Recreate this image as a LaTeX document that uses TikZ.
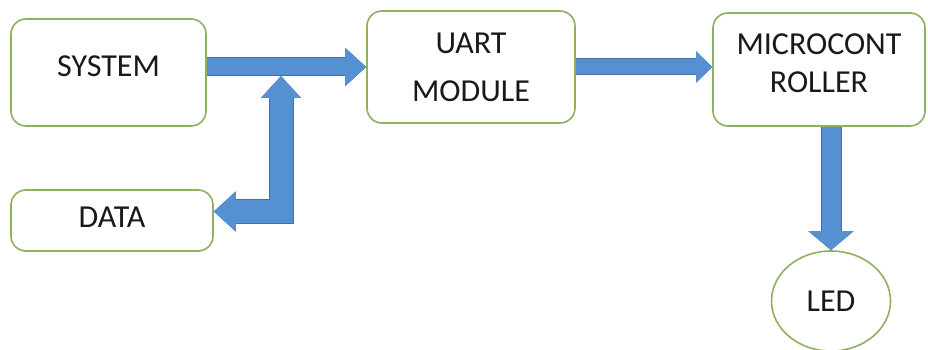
\documentclass[tikz,border=0pt]{standalone}
\usepackage{fontspec}
\setmainfont{Carlito}
\usetikzlibrary{arrows.meta,positioning,shapes.geometric}
\definecolor{boxgreen}{HTML}{8FB05F}
\definecolor{arrowblue}{HTML}{5590D2}
\definecolor{arrowedge}{HTML}{41719C}
\tikzset{
  block/.style={draw=boxgreen, line width=1.6pt, rounded corners=15pt, fill=white, align=center, inner sep=0pt, text=black!90, font=\fontsize{32}{38}\selectfont},
  fat/.style 2 args={line width=#1, draw=arrowblue, line join=miter, -{Triangle[#2, line width=0pt]},
    preaction={draw=arrowedge, line width=#1+2pt, -{Triangle[#2, line width=1.5pt]}}},
  fat both/.style 2 args={line width=#1, draw=arrowblue, line join=miter, {Triangle[#2, line width=0pt]}-{Triangle[#2, line width=0pt]},
    preaction={draw=arrowedge, line width=#1+2pt, {Triangle[#2, line width=1.5pt]}-{Triangle[#2, line width=1.5pt]}}}
}

\begin{document}
\begin{tikzpicture}[x=1pt, y=-1pt]
  \useasboundingbox (0,0) rectangle (928,350);
  \node[block, minimum width=195pt, minimum height=107pt, text height=22pt, text depth=13pt] (sys) at (108.5,72.5) {SYSTEM};
  \node[block, minimum width=202pt, minimum height=61pt, text height=22pt, text depth=8pt] (data) at (112,220.5) {DATA};
  \node[block, minimum width=208pt, minimum height=112pt] (uart) at (471,67) {UART\\[10pt]MODULE};
  \node[block, minimum width=212pt, minimum height=113pt, text height=60pt, text depth=14pt] (mcu) at (819,69.5) {MICROCONT\\ROLLER};
  \node[block, ellipse, sharp corners, minimum width=119pt, minimum height=100pt] (led) at (831,301) {LED};
  \coordinate (jn) at (281,76);
  % connections
  \draw[fat={17pt}{length=21pt,width=38pt}] (sys.east |- uart.west) -- (uart.west);
  \draw[fat={15pt}{length=16pt,width=31pt}] (uart.east) -- (uart.east -| mcu.west);
  \draw[fat={19pt}{length=19pt,width=45pt}] (led.north |- mcu.south) -- (led.north);
  \draw[fat both={23pt}{length=22pt,width=40pt}] ([yshift=9pt]data.east) -| (jn);
\end{tikzpicture}
\end{document}
